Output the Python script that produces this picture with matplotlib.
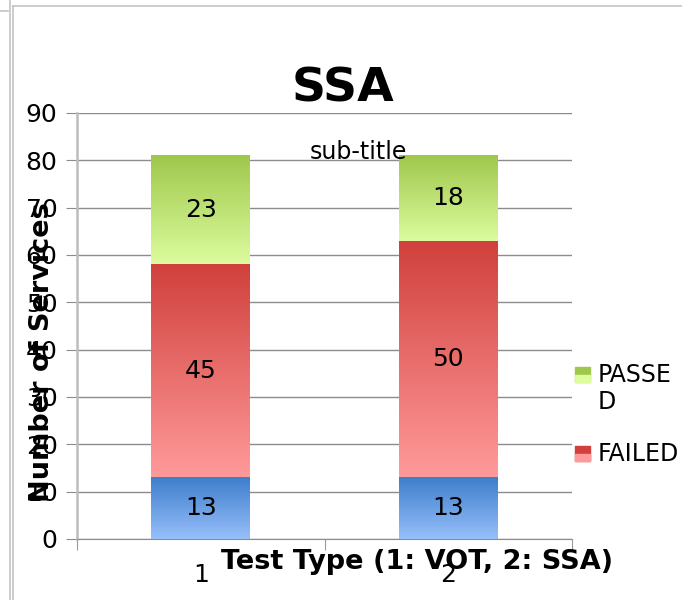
import matplotlib.pyplot as plt
import numpy as np
from matplotlib.colors import LinearSegmentedColormap
from matplotlib.lines import Line2D
from matplotlib.patches import Rectangle

# 数据
categories = ["1", "2"]
failed_base = [13, 13]     # 蓝色底段
failed = [45, 50]          # FAILED
passed = [23, 18]          # PASSED
yticks = list(range(0, 100, 10))

# 渐变色 (上深下浅)
blue = ("#3E7ECB", "#97BFFB")
red = ("#D0403C", "#FF9A9A")
green = ("#9FC74C", "#DCFC9E")

W, H = 682, 600
fig = plt.figure(figsize=(W / 100, H / 100), dpi=100)


def px(x, y):
    return x / W, 1 - y / H


ax = fig.add_axes([77 / W, 1 - 539 / H, (572 - 77) / W, (539 - 113) / H])

x = np.arange(1, len(categories) + 1)
grad = np.linspace(0, 1, 256).reshape(-1, 1)


def grad_bar(bottom, heights, cols):
    bars = ax.bar(x, heights, 0.4, bottom=bottom, color="none", zorder=2)
    cmap = LinearSegmentedColormap.from_list("g", [cols[1], cols[0]])
    for b in bars:
        x0, y0 = b.get_x(), b.get_y()
        ax.imshow(grad, extent=[x0, x0 + b.get_width(), y0, y0 + b.get_height()],
                  origin="lower", cmap=cmap, aspect="auto", zorder=2)
    for xi, yb, h in zip(x, bottom, heights):
        ax.text(xi, yb + h / 2, str(h), ha="center", va="center", fontsize=18, zorder=3)


b0 = np.zeros(len(x))
grad_bar(b0, failed_base, blue)
b1 = b0 + np.array(failed_base)
grad_bar(b1, failed, red)
b2 = b1 + np.array(failed)
grad_bar(b2, passed, green)

ax.set_xlim(0.5, 2.5)
ax.set_ylim(0, 90)
ax.set_yticks(yticks)
ax.set_axisbelow(True)
ax.yaxis.grid(True, color="#8C8C8C", lw=1)
for s in ["top", "right"]:
    ax.spines[s].set_visible(False)
ax.spines["left"].set_color("#BDBDBD")
ax.spines["left"].set_linewidth(1.8)
ax.spines["bottom"].set_color("#8C8C8C")
ax.tick_params(axis="y", length=8, color="#8C8C8C", pad=6, labelsize=18)
ax.set_xticks([0.5, 1.5, 2.5], ["", "", ""])
ax.tick_params(axis="x", which="major", length=8, color="#9A9A9A")
ax.set_xticks(x, categories, minor=True)
ax.tick_params(axis="x", which="minor", length=0, pad=17, labelsize=18)

ax.set_ylabel("Number of Services", fontsize=19.5, fontweight="bold", va="center")
ax.yaxis.set_label_coords((42 - 77) / 495, (539 - 352) / 426)
ax.set_xlabel("Test Type (1: VOT, 2: SSA)", fontsize=19.5, fontweight="bold", va="center")
ax.xaxis.set_label_coords((417 - 77) / 495, (539 - 562) / 426)

fig.text(*px(343, 89), "SSA", fontsize=34, fontweight="bold", ha="center", va="center")
fig.text(*px(358, 152), "sub-title", fontsize=17, ha="center", va="center")

# 图例
legend_items = [("PASSE\nD", green, 367), ("FAILED", red, 446)]
for lab, cols, top in legend_items:
    fx, fy = px(575, top + 15)
    fig.patches.append(Rectangle((fx, fy), 15 / W, 15 / H, transform=fig.transFigure,
                                 color=cols[0], zorder=3))
    fig.patches.append(Rectangle((fx, fy), 15 / W, 7 / H, transform=fig.transFigure,
                                 color=cols[1], zorder=3))
    fig.text(*px(598, top - 4), lab, fontsize=17, ha="left", va="top", linespacing=1.15)

# 外框
for xs, ys in [([10, 10], [0, 600]), ([13, 13], [6, 600]), ([13, 681], [6, 6]), ([0, 8], [11, 11])]:
    fig.add_artist(Line2D([v / W for v in xs], [1 - v / H for v in ys],
                          transform=fig.transFigure, color="#C4C4C4", lw=1.2))

plt.savefig("out.png", dpi=100)
